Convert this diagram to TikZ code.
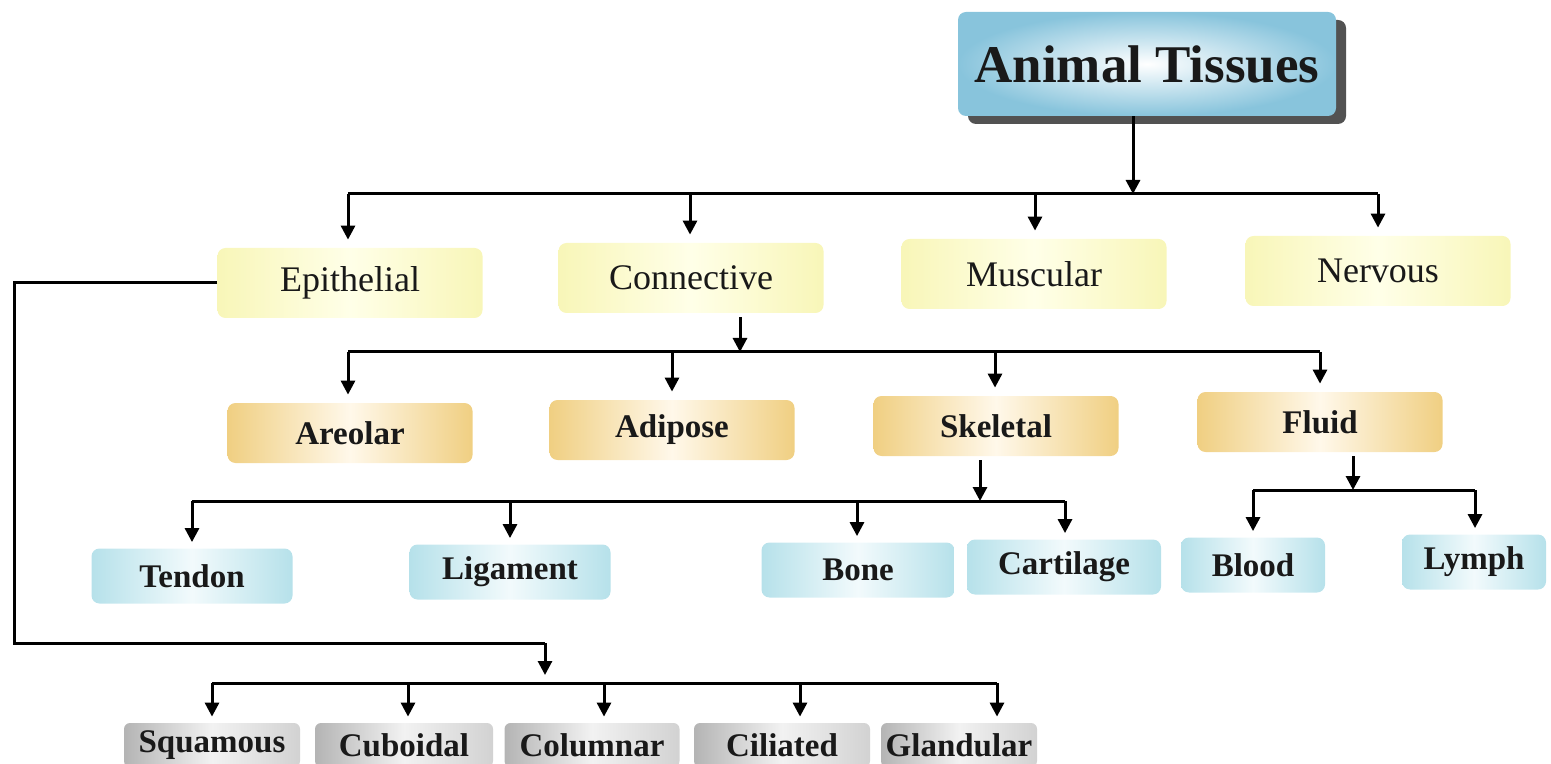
\documentclass[tikz,border=0pt]{standalone}
\usepackage{fontspec}
\setmainfont{Liberation Serif}
\usetikzlibrary{arrows.meta,shadows}
\newlength{\pxu}\setlength{\pxu}{0.5pt}
\definecolor{yelEdge}{HTML}{F8F6B8}
\definecolor{yelMid}{HTML}{FFFFE8}
\definecolor{orEdge}{HTML}{F0CF82}
\definecolor{orMid}{HTML}{FFF8EA}
\definecolor{cyEdge}{HTML}{B6E1EA}
\definecolor{cyMid}{HTML}{F2FAFC}
\definecolor{grEdge}{HTML}{B4B4B4}
\definecolor{grMid}{HTML}{F2F2F2}
\definecolor{grRight}{HTML}{D2D2D2}
\definecolor{blEdge}{HTML}{88C4DC}
\begin{document}
\begin{tikzpicture}[x=0.5pt,y=-0.5pt,
  conn/.style={line width=1.5pt, black},
  arr/.style={conn,-{Triangle[width=7pt,length=7pt]}},
  boxbase/.style={inner sep=0pt, text=black!90},
  lvA/.style={boxbase, rounded corners=4pt, minimum width=265\pxu, minimum height=70\pxu,
    left color=yelEdge, right color=yelEdge, middle color=yelMid, font=\fontsize{18}{20}\selectfont},
  lvB/.style={boxbase, rounded corners=4pt, minimum width=245\pxu, minimum height=60\pxu,
    left color=orEdge, right color=orEdge, middle color=orMid, font=\bfseries\fontsize{16.5}{18}\selectfont},
  lvC/.style={boxbase, rounded corners=4pt, minimum height=55\pxu,
    left color=cyEdge, right color=cyEdge, middle color=cyMid, font=\bfseries\fontsize{16.5}{18}\selectfont},
  lvD/.style={boxbase, rounded corners=3pt, minimum height=44\pxu,
    left color=grEdge, right color=grRight, middle color=grMid, font=\bfseries\fontsize{16.5}{18}\selectfont},
  titlebox/.style={boxbase, rounded corners=4pt, minimum width=378\pxu, minimum height=104\pxu,
    shading=radial, inner color=white, outer color=blEdge,
    drop shadow={shadow xshift=5pt, shadow yshift=-4pt, fill=black!68, opacity=1},
    font=\bfseries\fontsize{26.5}{30}\selectfont}
]
\useasboundingbox (0,0) rectangle (1551,764);

% title
\node[titlebox] (T) at (1147,64) {Animal Tissues};

% level 1
\node[lvA] (E) at (350,283) {Epithelial};
\node[lvA] (C) at (691,278) {Connective};
\node[lvA] (M) at (1034,274) {Muscular};
\node[lvA] (N) at (1378,271) {Nervous};

% level 2
\node[lvB] (Ar) at (350,433) {Areolar};
\node[lvB] (Ad) at (672,430) {Adipose};
\node[lvB] (Sk) at (996,426) {Skeletal};
\node[lvB] (Fl) at (1320,422) {Fluid};

% level 3
\node[lvC, minimum width=201\pxu] (Te) at (192,576) {Tendon};
\node[lvC, minimum width=201\pxu] (Li) at (510,572) {Ligament};
\node[lvC, minimum width=193\pxu] (Bo) at (858,570) {Bone};
\node[lvC, minimum width=194\pxu] (Ca) at (1064,567) {Cartilage};
\node[lvC, minimum width=144\pxu] (Bl) at (1253,565) {Blood};
\node[lvC, minimum width=144\pxu] (Ly) at (1474,562) {Lymph};

% level 4
\node[lvD, minimum width=176\pxu] (Sq) at (212,745) {Squamous};
\node[lvD, minimum width=178\pxu] (Cu) at (404,745) {Cuboidal};
\node[lvD, minimum width=175\pxu] (Co) at (592,745) {Columnar};
\node[lvD, minimum width=176\pxu] (Ci) at (782,745) {Ciliated};
\node[lvD, minimum width=156\pxu] (Gl) at (959,745) {Glandular};

% bus coordinates
\coordinate (b1) at (1133,194);
\coordinate (b1L) at (348,194);
\coordinate (b1R) at (1378,194);
\coordinate (b2) at (740,352);
\coordinate (b2L) at (348,352);
\coordinate (b2R) at (1320,352);
\coordinate (b3) at (980,501);
\coordinate (b3L) at (192,501);
\coordinate (b3R) at (1065,501);
\coordinate (b4) at (1353,490);
\coordinate (b4L) at (1253,490);
\coordinate (b4R) at (1475,490);
\coordinate (eA) at (14,643);
\coordinate (b5) at (545,683);
\coordinate (b5L) at (212,683);
\coordinate (b5R) at (997,683);

% title to level 1
\draw[arr] (T.south -| b1) -- (b1);
\draw[conn] (b1L) -- (b1R);
\draw[arr, shorten >=4pt] (b1L) -- (E.north -| b1L);
\draw[arr, shorten >=4pt] (690,194) -- (C.north -| 690,0);
\draw[arr, shorten >=4pt] (1035,194) -- (M.north -| 1035,0);
\draw[arr, shorten >=4pt] (b1R) -- (N.north -| b1R);

% connective to level 2
\draw[arr, shorten <=2pt] (C.south -| b2) -- (b2);
\draw[conn] (b2L) -- (b2R);
\draw[arr, shorten >=4pt] (b2L) -- (Ar.north -| b2L);
\draw[arr, shorten >=4pt] (672,352) -- (Ad.north);
\draw[arr, shorten >=4pt] (995,352) -- (Sk.north -| 995,0);
\draw[arr, shorten >=4pt] (b2R) -- (Fl.north);

% skeletal to level 3
\draw[arr, shorten <=2pt] (Sk.south -| b3) -- (b3);
\draw[conn] (b3L) -- (b3R);
\draw[arr, shorten >=3pt] (b3L) -- (Te.north);
\draw[arr, shorten >=3pt] (510,501) -- (Li.north);
\draw[arr, shorten >=3pt] (857,501) -- (Bo.north -| 857,0);
\draw[arr, shorten >=3pt] (b3R) -- (Ca.north -| b3R);

% fluid to level 3
\draw[arr, shorten <=2pt] (Fl.south -| b4) -- (b4);
\draw[conn] (b4L) -- (b4R);
\draw[arr, shorten >=3pt] (b4L) -- (Bl.north);
\draw[arr, shorten >=3pt] (b4R) -- (Ly.north -| b4R);

% epithelial to level 4
\draw[conn] (E.west) -- (E.west -| eA) -- (eA) -- (eA -| b5);
\draw[arr] (eA -| b5) -- ([yshift=4pt]b5);
\draw[conn] (b5L) -- (b5R);
\draw[arr, shorten >=3pt] (b5L) -- (Sq.north -| b5L);
\draw[arr, shorten >=3pt] (408,683) -- (Cu.north -| 408,0);
\draw[arr, shorten >=3pt] (604,683) -- (Co.north -| 604,0);
\draw[arr, shorten >=3pt] (800,683) -- (Ci.north -| 800,0);
\draw[arr, shorten >=3pt] (b5R) -- (Gl.north -| b5R);
\end{tikzpicture}
\end{document}
